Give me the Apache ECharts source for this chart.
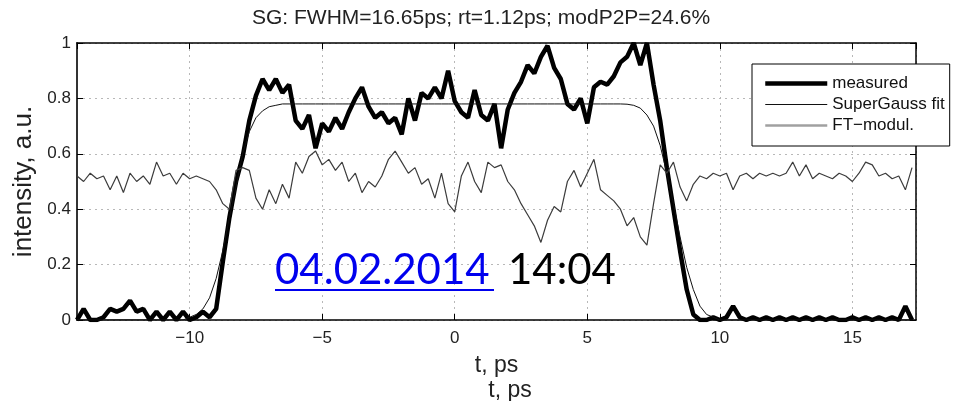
<!DOCTYPE html>
<html><head><meta charset="utf-8">
<script src="https://cdn.jsdelivr.net/npm/echarts@6/dist/echarts.min.js"></script>
<style>html,body{margin:0;padding:0;background:#fff}#c{width:955px;height:401px}</style>
</head><body><div id="c"></div>
<script>
const titleText = 'SG: FWHM=16.65ps; rt=1.12ps; modP2P=24.6%';
const xName = 't, ps';
const yName = 'intensity, a.u.';
const seriesNames = ['measured', 'SuperGauss fit', 'FT\u2212modul.'];
const dateText = '04.02.2014';
const timeText = '14:04';
const xTicks = [-10, -5, 0, 5, 10, 15];
const yTicks = [0, 0.2, 0.4, 0.6, 0.8, 1];

// time samples, ps
const t = [-14.25,
 -14,-13.75,-13.5,-13.25, -13,-12.75,-12.5,-12.25, -12,-11.75,-11.5,-11.25, -11,-10.75,-10.5,-10.25,
 -10,-9.75,-9.5,-9.25, -9,-8.75,-8.5,-8.25, -8,-7.75,-7.5,-7.25, -7,-6.75,-6.5,-6.25,
 -6,-5.75,-5.5,-5.25, -5,-4.75,-4.5,-4.25, -4,-3.75,-3.5,-3.25, -3,-2.75,-2.5,-2.25,
 -2,-1.75,-1.5,-1.25, -1,-0.75,-0.5,-0.25, 0,0.25,0.5,0.75, 1,1.25,1.5,1.75,
 2,2.25,2.5,2.75, 3,3.25,3.5,3.75, 4,4.25,4.5,4.75, 5,5.25,5.5,5.75,
 6,6.25,6.5,6.75, 7,7.25,7.5,7.75, 8,8.25,8.5,8.75, 9,9.25,9.5,9.75,
 10,10.25,10.5,10.75, 11,11.25,11.5,11.75, 12,12.25,12.5,12.75, 13,13.25,13.5,13.75,
 14,14.25,14.5,14.75, 15,15.25,15.5,15.75, 16,16.25,16.5,16.75, 17,17.25];

const measured = [0,
 0.04,0,0,0.01, 0.04,0.03,0.04,0.07, 0.03,0.04,0,0.03, 0,0.03,0,0.03,
 0,0.01,0.03,0.01, 0.04,0.21,0.37,0.50, 0.59,0.72,0.81,0.87, 0.83,0.87,0.82,0.85,
 0.72,0.69,0.74,0.62, 0.71,0.68,0.73,0.69, 0.75,0.80,0.84,0.77, 0.73,0.75,0.71,0.73,
 0.67,0.80,0.72,0.82, 0.80,0.84,0.80,0.90, 0.79,0.75,0.73,0.83, 0.74,0.72,0.78,0.62,
 0.76,0.82,0.86,0.92, 0.89,0.95,0.99,0.91, 0.87,0.78,0.76,0.80, 0.71,0.84,0.86,0.85,
 0.88,0.93,0.95,1.0, 0.92,1.0,0.85,0.72, 0.55,0.40,0.25,0.11, 0.02,0,0,0.01,
 0,0.01,0.05,0.01, 0,0.01,0,0.01, 0,0.01,0,0.01, 0,0.01,0,0.01,
 0,0.01,0,0, 0.01,0,0.01,0, 0.01,0,0.01,0, 0.05,0];

const superGauss = [0,
 0,0,0,0, 0,0,0,0, 0,0,0,0, 0,0,0,0,
 0.01,0.02,0.04,0.08, 0.15,0.25,0.37,0.48, 0.60,0.68,0.73,0.755, 0.77,0.775,0.78,0.78,
 0.78,0.78,0.78,0.78, 0.78,0.78,0.78,0.78, 0.78,0.78,0.78,0.78, 0.78,0.78,0.78,0.78,
 0.78,0.78,0.78,0.78, 0.78,0.78,0.78,0.78, 0.78,0.78,0.78,0.78, 0.78,0.78,0.78,0.78,
 0.78,0.78,0.78,0.78, 0.78,0.78,0.78,0.78, 0.78,0.78,0.78,0.78, 0.78,0.78,0.78,0.78,
 0.78,0.78,0.779,0.775, 0.765,0.74,0.70,0.63, 0.53,0.42,0.30,0.19, 0.11,0.05,0.02,0.01,
 0,0,0,0, 0,0,0,0, 0,0,0,0, 0,0,0,0,
 0,0,0,0, 0,0,0,0, 0,0,0,0, 0,0];

const ftModul = [0.52,
 0.50,0.53,0.51,0.52, 0.47,0.52,0.46,0.53, 0.50,0.52,0.49,0.57, 0.52,0.53,0.49,0.53,
 0.51,0.52,0.51,0.50, 0.47,0.42,0.40,0.54, 0.55,0.54,0.44,0.40, 0.47,0.42,0.49,0.44,
 0.57,0.53,0.59,0.61, 0.56,0.58,0.54,0.57, 0.50,0.53,0.46,0.50, 0.48,0.52,0.58,0.61,
 0.57,0.53,0.55,0.49, 0.51,0.44,0.53,0.42, 0.39,0.52,0.57,0.50, 0.46,0.57,0.55,0.56,
 0.50,0.47,0.42,0.38, 0.34,0.28,0.36,0.41, 0.39,0.50,0.54,0.48, 0.53,0.58,0.47,0.45,
 0.43,0.40,0.34,0.37, 0.30,0.27,0.42,0.56, 0.53,0.57,0.48,0.43, 0.49,0.52,0.51,0.53,
 0.52,0.53,0.47,0.52, 0.53,0.51,0.53,0.52, 0.53,0.52,0.53,0.57, 0.52,0.56,0.51,0.53,
 0.52,0.51,0.53,0.52, 0.50,0.53,0.57,0.56, 0.52,0.53,0.51,0.52, 0.47,0.55];

const FONT = 'Liberation Sans';
const pair = arr => t.map((x, i) => [x, arr[i]]);
const xFmt = v => (v < 0 ? '\u2212' : '') + Math.abs(v);
const splitStyle = { show: true, lineStyle: { color: '#b8b8b8', type: [2, 4], width: 1 } };
const hideSym = { color: 'rgba(0,0,0,0)', borderWidth: 0, opacity: 0 };

const chart = echarts.init(document.getElementById('c'), null, { renderer: 'canvas' });
chart.setOption({
  animation: false,
  backgroundColor: '#fff',
  title: {
    text: titleText, left: 252, top: 8, padding: 0,
    textStyle: { fontFamily: FONT, fontSize: 21, fontWeight: 'normal', color: '#222' }
  },
  legend: {
    orient: 'vertical', left: 752, top: 64,
    padding: [11, 5, 12, 11], itemGap: 4, itemWidth: 62, itemHeight: 14,
    backgroundColor: '#fff', borderColor: '#000', borderWidth: 1, borderRadius: 0,
    textStyle: { fontFamily: FONT, fontSize: 17, color: '#111' },
    itemStyle: hideSym,
    data: [
      { name: seriesNames[0], itemStyle: hideSym, lineStyle: { color: '#000', width: 4.5 } },
      { name: seriesNames[1], itemStyle: hideSym, lineStyle: { color: '#111', width: 1 } },
      { name: seriesNames[2], itemStyle: hideSym, lineStyle: { color: '#a0a0a0', width: 2.5 } }
    ]
  },
  grid: { left: 77, right: 39, top: 43, bottom: 81 },
  xAxis: [{
    type: 'value', min: -14.25, max: 17.4, splitNumber: 6, position: 'bottom',
    name: xName, nameLocation: 'middle', nameGap: 34,
    nameTextStyle: { fontFamily: FONT, fontSize: 23, color: '#222' },
    axisLine: { show: true, onZero: false, lineStyle: { color: '#000', width: 1.5 } },
    axisTick: { show: true, inside: true, length: 6, lineStyle: { color: '#000' } },
    axisLabel: { fontFamily: FONT, fontSize: 17, color: '#222', margin: 10, formatter: xFmt,
      showMinLabel: false, showMaxLabel: false },
    splitLine: splitStyle
  }, {
    type: 'value', min: -14.25, max: 17.4, splitNumber: 6, position: 'top',
    axisLine: { show: true, onZero: false, lineStyle: { color: '#000', width: 1.5 } },
    axisTick: { show: true, inside: true, length: 6, lineStyle: { color: '#000' } },
    axisLabel: { show: false }, splitLine: { show: false }
  }],
  yAxis: [{
    type: 'value', min: yTicks[0], max: yTicks[yTicks.length - 1], interval: 0.2, position: 'left',
    name: yName, nameLocation: 'middle', nameGap: 37,
    nameTextStyle: { fontFamily: FONT, fontSize: 26, color: '#222' },
    axisLine: { show: true, onZero: false, lineStyle: { color: '#333', width: 2 } },
    axisTick: { show: true, inside: true, length: 6, lineStyle: { color: '#000' } },
    axisLabel: { fontFamily: FONT, fontSize: 17, color: '#222', margin: 6 },
    splitLine: splitStyle
  }, {
    type: 'value', min: yTicks[0], max: yTicks[yTicks.length - 1], interval: 0.2, position: 'right',
    axisLine: { show: true, onZero: false, lineStyle: { color: '#000', width: 1.5 } },
    axisTick: { show: true, inside: true, length: 6, lineStyle: { color: '#000' } },
    axisLabel: { show: false }, splitLine: { show: false }
  }],
  series: [
    { name: seriesNames[0], type: 'line', data: pair(measured), symbol: 'none', z: 3,
      lineStyle: { color: '#000', width: 4.5 }, itemStyle: { color: '#000' } },
    { name: seriesNames[1], type: 'line', data: pair(superGauss), symbol: 'none', z: 4,
      lineStyle: { color: '#111', width: 1 }, itemStyle: { color: '#111' } },
    { name: seriesNames[2], type: 'line', data: pair(ftModul), symbol: 'none', z: 5,
      lineStyle: { color: '#3c3c3c', width: 1.2 }, itemStyle: { color: '#3c3c3c' } }
  ],
  graphic: [
    { type: 'text', x: 275, y: 249, z: 100,
      style: { text: dateText, font: '42px Lato', fill: '#0000ee', verticalAlign: 'top' } },
    { type: 'rect', z: 100, shape: { x: 275, y: 289, width: 219, height: 2 }, style: { fill: '#0000ee' } },
    { type: 'text', x: 508, y: 249, z: 100,
      style: { text: timeText, font: '42px Lato', fill: '#000', verticalAlign: 'top' } },
    { type: 'text', x: 510, y: 391, z: 100,
      style: { text: xName, font: '23px "Liberation Sans"', fill: '#222', align: 'center', verticalAlign: 'middle' } }
  ]
});
</script></body></html>
